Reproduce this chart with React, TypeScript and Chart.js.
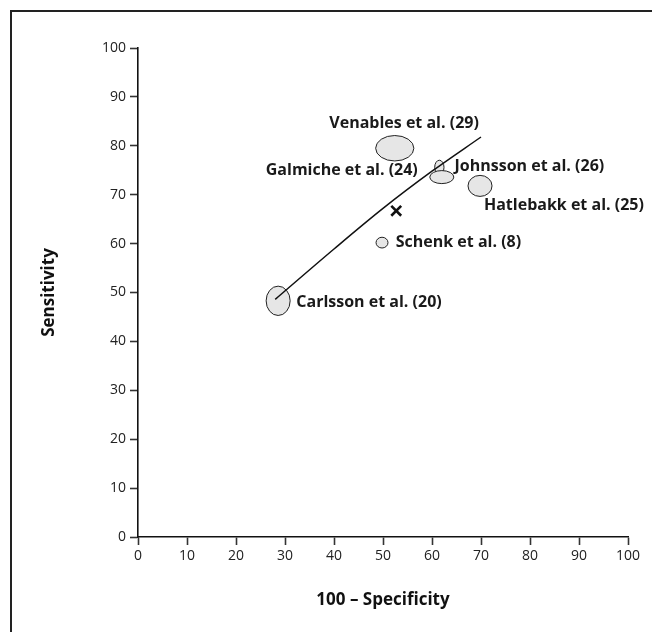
import React, { useEffect, useRef } from "react";
import { Chart, registerables } from "chart.js";

Chart.register(...registerables);

// Study ellipses: centre (100 - specificity, sensitivity) and half-widths in data units
const studyNames = [
  "Venables et al. (29)",
  "Johnsson et al. (26)",
  "Galmiche et al. (24)",
  "Hatlebakk et al. (25)",
  "Schenk et al. (8)",
  "Carlsson et al. (20)",
];
const studyX = [52.4, 61.5, 62.0, 69.8, 49.8, 28.6];
const studyY = [79.5, 75.6, 73.6, 71.8, 60.2, 48.3];
const studyRx = [3.9, 0.95, 2.45, 2.45, 1.22, 2.45];
const studyRy = [2.6, 1.45, 1.33, 2.15, 1.1, 3.0];

// Label anchors (data units) and alignment
const labelX = [54.3, 64.6, 57.1, 70.6, 52.6, 32.3];
const labelY = [84.6, 75.8, 75.0, 67.9, 60.3, 47.9];
const labelAlign = ["center", "left", "right", "left", "left", "left"];

// Summary point
const summaryX = [52.7];
const summaryY = [66.7];

// SROC curve
const curveX = [28.0, 40, 50, 60, 70.0];
const curveY = [48.6, 58.9, 67.2, 74.8, 81.8];

const xTicks = [0, 10, 20, 30, 40, 50, 60, 70, 80, 90, 100];
const yTicks = [0, 10, 20, 30, 40, 50, 60, 70, 80, 90, 100];

const FONT = "'Open Sans', 'DejaVu Sans', sans-serif";

const framePlugin = {
  id: "frame",
  beforeDraw(chart: any) {
    const ctx = chart.ctx;
    ctx.save();
    ctx.fillStyle = "#fff";
    ctx.fillRect(0, 0, chart.width, chart.height);
    ctx.strokeStyle = "#222";
    ctx.lineWidth = 2;
    ctx.beginPath();
    ctx.moveTo(11, chart.height);
    ctx.lineTo(11, 11);
    ctx.lineTo(chart.width, 11);
    ctx.stroke();
    ctx.restore();
  },
};

const ellipsePlugin = {
  id: "ellipses",
  beforeDatasetsDraw(chart: any) {
    const ctx = chart.ctx;
    const xs = chart.scales.x;
    const ys = chart.scales.y;
    ctx.save();
    for (let i = 0; i < studyX.length; i++) {
      const cx = xs.getPixelForValue(studyX[i]);
      const cy = ys.getPixelForValue(studyY[i]);
      const rx = Math.abs(xs.getPixelForValue(studyX[i] + studyRx[i]) - cx);
      const ry = Math.abs(ys.getPixelForValue(studyY[i] + studyRy[i]) - cy);
      ctx.beginPath();
      ctx.ellipse(cx, cy, rx, ry, 0, 0, Math.PI * 2);
      ctx.fillStyle = "#e6e6e6";
      ctx.fill();
      ctx.lineWidth = 1;
      ctx.strokeStyle = "#222";
      ctx.stroke();
    }
    ctx.restore();
  },
  afterDraw(chart: any) {
    const ctx = chart.ctx;
    const xs = chart.scales.x;
    const ys = chart.scales.y;
    ctx.save();
    ctx.font = `bold 16px ${FONT}`;
    ctx.fillStyle = "#1a1a1a";
    ctx.textBaseline = "middle";
    for (let i = 0; i < studyNames.length; i++) {
      ctx.textAlign = labelAlign[i];
      ctx.fillText(
        studyNames[i],
        xs.getPixelForValue(labelX[i]),
        ys.getPixelForValue(labelY[i])
      );
    }
    ctx.restore();
  },
};

export default function App() {
  const ref = useRef<HTMLCanvasElement>(null);
  useEffect(() => {
    if (!ref.current) return;
    const chart = new Chart(ref.current, {
      type: "scatter",
      data: {
        datasets: [
          {
            type: "line",
            data: curveX.map((x, i) => ({ x, y: curveY[i] })),
            borderColor: "#111",
            borderWidth: 1.5,
            pointRadius: 0,
            tension: 0.4,
            cubicInterpolationMode: "monotone",
            fill: false,
            order: 0,
          } as any,
          {
            data: summaryX.map((x, i) => ({ x, y: summaryY[i] })),
            pointStyle: "crossRot",
            pointRadius: 7,
            borderColor: "#111",
            borderWidth: 2.6,
            backgroundColor: "#111",
          },
        ],
      },
      options: {
        responsive: false,
        animation: false,
        devicePixelRatio: 1,
        layout: { padding: { left: 0, top: 48, right: 24, bottom: 0 } },
        plugins: { legend: { display: false }, tooltip: { enabled: false } },
        scales: {
          x: {
            type: "linear",
            min: 0,
            max: 100,
            afterFit(scale: any) {
              scale.height = 95;
            },
            afterBuildTicks(scale: any) {
              scale.ticks = xTicks.map((v) => ({ value: v }));
            },
            grid: {
              drawOnChartArea: false,
              drawTicks: true,
              tickLength: 8,
              tickWidth: 1.6,
              tickColor: "#333",
            },
            border: { color: "#111", width: 1.6 },
            ticks: {
              padding: 3,
              color: "#222",
              font: { family: FONT, size: 14 },
              maxRotation: 0,
            },
            title: {
              display: true,
              text: "100 – Specificity",
              color: "#111",
              font: { family: FONT, size: 17, weight: "bold" },
              padding: { top: 0, bottom: 22 },
            },
          },
          y: {
            type: "linear",
            min: 0,
            max: 100,
            afterFit(scale: any) {
              scale.width = 138;
            },
            afterBuildTicks(scale: any) {
              scale.ticks = yTicks.map((v) => ({ value: v }));
            },
            grid: {
              drawOnChartArea: false,
              drawTicks: true,
              tickLength: 8,
              tickWidth: 1.6,
              tickColor: "#333",
            },
            border: { color: "#111", width: 1.6 },
            ticks: {
              padding: 4,
              color: "#222",
              font: { family: FONT, size: 14 },
            },
            title: {
              display: true,
              text: "Sensitivity",
              color: "#111",
              font: { family: FONT, size: 17, weight: "bold" },
              padding: { top: 39, bottom: 0 },
            },
          },
        },
      },
      plugins: [framePlugin, ellipsePlugin],
    });
    return () => chart.destroy();
  }, []);
  return (
    <div style={{ position: "absolute", left: 0, top: 0, width: 652, height: 632 }}>
      <canvas ref={ref} width={652} height={632} style={{ display: "block" }} />
    </div>
  );
}
